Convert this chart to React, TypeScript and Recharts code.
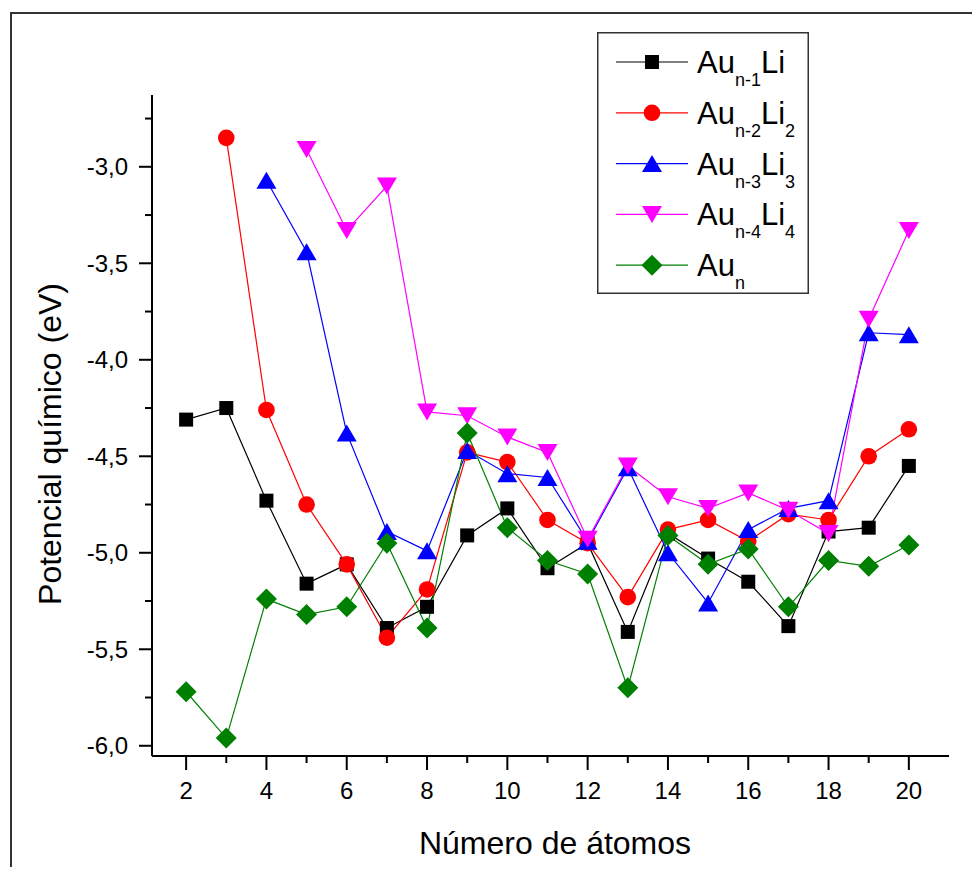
import React from 'react';
import { LineChart, Line, XAxis, YAxis, Legend } from 'recharts';

const atomCounts = [2, 3, 4, 5, 6, 7, 8, 9, 10, 11, 12, 13, 14, 15, 16, 17, 18, 19, 20];

const auN1Li = [-4.31, -4.25, -4.73, -5.16, -5.06, -5.39, -5.28, -4.91, -4.77, -5.08, -4.95, -5.41, -4.9, -5.03, -5.15, -5.38, -4.89, -4.87, -4.55];
const auN2Li2 = [null, -2.85, -4.26, -4.75, -5.06, -5.44, -5.19, -4.48, -4.53, -4.83, -4.95, -5.23, -4.88, -4.83, -4.94, -4.8, -4.83, -4.5, -4.36];
const auN3Li3 = [null, null, -3.07, -3.44, -4.38, -4.89, -4.99, -4.47, -4.59, -4.61, -4.94, -4.56, -5.0, -5.26, -4.88, -4.77, -4.73, -3.86, -3.87];
const auN4Li4 = [null, null, null, -2.91, -3.33, -3.1, -4.27, -4.29, -4.4, -4.48, -4.93, -4.55, -4.71, -4.77, -4.69, -4.78, -4.9, -3.79, -3.33];
const auN = [-5.72, -5.96, -5.24, -5.32, -5.28, -4.95, -5.39, -4.38, -4.87, -5.04, -5.11, -5.7, -4.91, -5.06, -4.98, -5.28, -5.04, -5.07, -4.96];

const xTicks = [2, 3, 4, 5, 6, 7, 8, 9, 10, 11, 12, 13, 14, 15, 16, 17, 18, 19, 20];
const yTicks = [-6, -5.75, -5.5, -5.25, -5, -4.75, -4.5, -4.25, -4, -3.75, -3.5, -3.25, -3, -2.75];

const FONT = '"Liberation Sans", Arial, sans-serif';

// legend label: [main, sub, main, sub]
const series = [
  { key: 's1', values: auN1Li, color: '#000000', shape: 'square', label: ['Au', 'n-1', 'Li', ''] },
  { key: 's2', values: auN2Li2, color: '#ff0000', shape: 'circle', label: ['Au', 'n-2', 'Li', '2'] },
  { key: 's3', values: auN3Li3, color: '#0000ff', shape: 'up', label: ['Au', 'n-3', 'Li', '3'] },
  { key: 's4', values: auN4Li4, color: '#ff00ff', shape: 'down', label: ['Au', 'n-4', 'Li', '4'] },
  { key: 's5', values: auN, color: '#008000', shape: 'diamond', label: ['Au', 'n', '', ''] },
];

const data = atomCounts.map((n, i) => {
  const row: any = { n };
  series.forEach((s) => {
    row[s.key] = s.values[i];
  });
  return row;
});

function Marker({ shape, cx, cy, color }: { shape: string; cx: number; cy: number; color: string }) {
  if (shape === 'square') return <rect x={cx - 7} y={cy - 7} width={14} height={14} fill={color} />;
  if (shape === 'circle') return <circle cx={cx} cy={cy} r={8.3} fill={color} />;
  if (shape === 'up')
    return <path d={`M${cx - 10},${cy + 8.5} L${cx + 10},${cy + 8.5} L${cx},${cy - 8.5} Z`} fill={color} />;
  if (shape === 'down')
    return <path d={`M${cx - 10},${cy - 8.5} L${cx + 10},${cy - 8.5} L${cx},${cy + 8.5} Z`} fill={color} />;
  return <path d={`M${cx},${cy - 10.5} L${cx + 10.5},${cy} L${cx},${cy + 10.5} L${cx - 10.5},${cy} Z`} fill={color} />;
}

const makeDot = (shape: string, color: string) => (props: any) => {
  const { cx, cy, index, value } = props;
  if (value == null || cx == null || cy == null) return <g key={index} />;
  return (
    <g key={index}>
      <Marker shape={shape} cx={cx} cy={cy} color={color} />
    </g>
  );
};

const XTick = (props: any) => {
  const { x, y, payload } = props;
  const major = payload.value % 2 === 0;
  return (
    <g>
      <line x1={x} x2={x} y1={y} y2={y + (major ? 14 : 7)} stroke="#000" strokeWidth={2} />
      {major && (
        <text x={x} y={y + 43} textAnchor="middle" fontSize={24} fontFamily={FONT} fill="#000">
          {payload.value}
        </text>
      )}
    </g>
  );
};

const YTick = (props: any) => {
  const { x, y, payload } = props;
  const v = payload.value;
  const major = Math.abs(v * 2 - Math.round(v * 2)) < 1e-6;
  return (
    <g>
      <line x1={x - (major ? 13 : 7)} x2={x} y1={y} y2={y} stroke="#000" strokeWidth={2} />
      {major && (
        <text x={x - 24} y={y + 8.5} textAnchor="end" fontSize={24} fontFamily={FONT} fill="#000">
          {v.toFixed(1).replace('.', ',')}
        </text>
      )}
    </g>
  );
};

const LegendBox = () => (
  <svg width={212} height={262} style={{ display: 'block' }}>
    <rect x={0.75} y={0.75} width={210.5} height={260.5} fill="#fff" stroke="#333" strokeWidth={1.5} />
    {series.map((s, i) => {
      const cy = 30 + i * 50.8;
      return (
        <g key={s.key}>
          <line x1={19} x2={91} y1={cy} y2={cy} stroke={s.color} strokeWidth={1.2} />
          <Marker shape={s.shape} cx={55} cy={cy} color={s.color} />
          <text x={100} y={cy + 11} fontFamily={FONT} fontSize={31} fill="#000">
            <tspan>{s.label[0]}</tspan>
            <tspan fontSize={18} dy={13}>{s.label[1]}</tspan>
            {s.label[2] && <tspan dy={-13}>{s.label[2]}</tspan>}
            {s.label[3] && <tspan fontSize={18} dy={13}>{s.label[3]}</tspan>}
          </text>
        </g>
      );
    })}
  </svg>
);

export default function App() {
  return (
    <div style={{ position: 'relative', width: 980, height: 875, margin: -8, overflow: 'hidden', background: '#fff' }}>
      <div
        style={{
          position: 'absolute',
          left: 10,
          top: 12,
          width: 1000,
          height: 900,
          borderLeft: '2px solid #333',
          borderTop: '2px solid #333',
        }}
      />
      <div style={{ position: 'absolute', left: 0, top: 0 }}>
        <LineChart width={980} height={875} data={data} margin={{ top: 95, right: 31, bottom: 0, left: 0 }}>
          <XAxis
            dataKey="n"
            type="number"
            domain={[1.15, 21]}
            ticks={xTicks}
            interval={0}
            allowDataOverflow
            tickSize={0}
            tickMargin={0}
            tickLine={false}
            tick={<XTick />}
            height={119}
            axisLine={{ stroke: '#000', strokeWidth: 2 }}
            label={{
              content: () => (
                <text x={555} y={854} textAnchor="middle" fontSize={32} fontFamily={FONT} fill="#000">
                  Número de átomos
                </text>
              ),
            }}
          />
          <YAxis
            type="number"
            domain={[-6.053, -2.628]}
            ticks={yTicks}
            interval={0}
            allowDataOverflow
            tickSize={0}
            tickMargin={0}
            tickLine={false}
            tick={<YTick />}
            width={152}
            axisLine={{ stroke: '#000', strokeWidth: 2 }}
            label={{
              content: () => (
                <text
                  x={61}
                  y={444}
                  transform="rotate(-90 61 444)"
                  textAnchor="middle"
                  fontSize={32}
                  fontFamily={FONT}
                  fill="#000"
                >
                  Potencial químico (eV)
                </text>
              ),
            }}
          />
          <Legend
            layout="vertical"
            align="center"
            verticalAlign="middle"
            content={() => <LegendBox />}
            wrapperStyle={{ position: 'absolute', left: 597, top: 32, width: 212, height: 262 }}
          />
          {series.map((s) => (
            <Line
              key={s.key}
              dataKey={s.key}
              stroke={s.color}
              strokeWidth={1.2}
              dot={makeDot(s.shape, s.color)}
              activeDot={false}
              isAnimationActive={false}
              connectNulls={false}
            />
          ))}
        </LineChart>
      </div>
    </div>
  );
}
